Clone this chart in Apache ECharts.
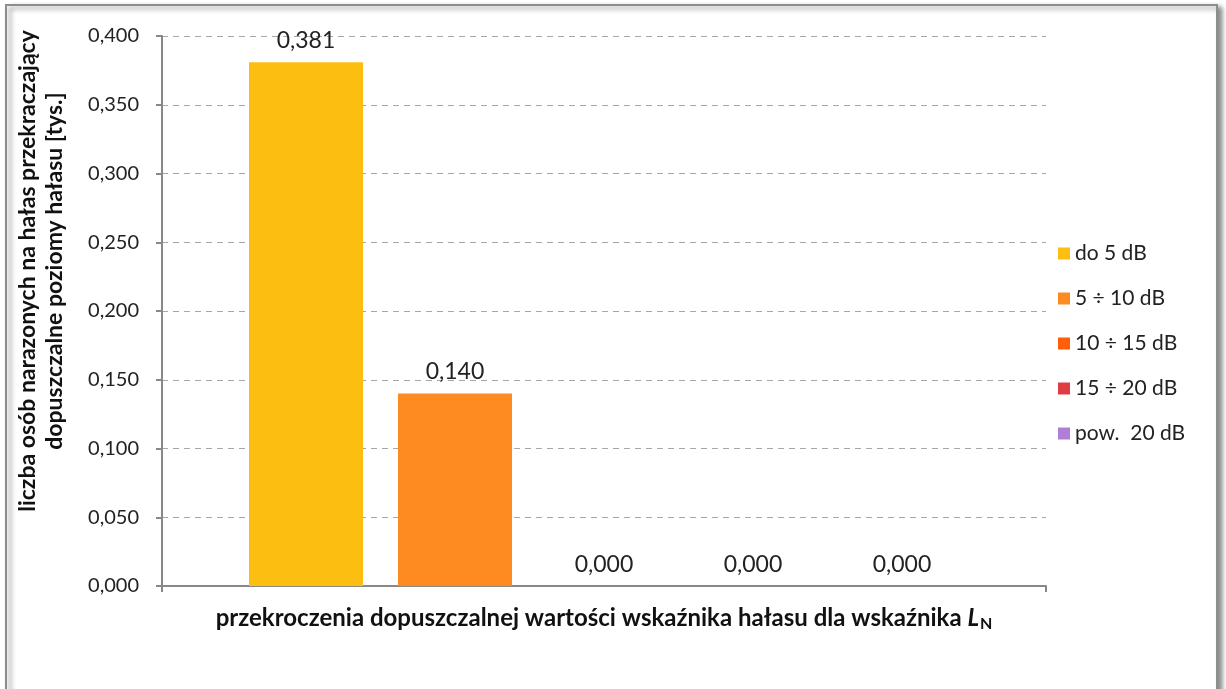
<!DOCTYPE html>
<html>
<head>
<meta charset="utf-8">
<script src="https://cdn.jsdelivr.net/npm/echarts@6/dist/echarts.min.js"></script>
<style>
  html, body { margin: 0; padding: 0; background: #ffffff; }
  #chart { width: 1226px; height: 689px; }
</style>
</head>
<body>
<div id="chart"></div>
<script>
// Exposure ranges above the permitted noise level (legend entries)
const seriesNames = ['do 5 dB', '5 ÷ 10 dB', '10 ÷ 15 dB', '15 ÷ 20 dB', 'pow.  20 dB'];
// Number of exposed residents [thousands] per range
const seriesValues = [0.381, 0.140, 0.000, 0.000, 0.000];
const seriesColors = ['#FDBE12', '#FD8B21', '#FF5F0B', '#DF3C42', '#B07ED8'];
const categories = [''];
const yTicks = { min: 0, max: 0.4, interval: 0.05 };

const fmt = v => v.toFixed(3).replace('.', ',');
const FONT = 'Lato, "Open Sans", sans-serif';

const chart = echarts.init(document.getElementById('chart'), null, { renderer: 'canvas' });

const series = seriesNames.map((name, i) => ({
  name: name,
  type: 'bar',
  data: [seriesValues[i]],
  barWidth: 114,
  barGap: '30.7%',
  itemStyle: { color: seriesColors[i] },
  label: {
    show: true,
    position: 'top',
    distance: 10,
    color: '#222',
    fontFamily: FONT,
    fontSize: 23,
    formatter: p => fmt(p.value)
  }
}));

chart.setOption({
  backgroundColor: '#ffffff',
  animation: false,
  textStyle: { fontFamily: FONT },
  graphic: [{
    type: 'rect',
    z: -10,
    silent: true,
    shape: { x: 6, y: 5, width: 1211, height: 720 },
    style: {
      fill: '#ffffff',
      stroke: '#8d8d8d',
      lineWidth: 2,
      shadowBlur: 5,
      shadowOffsetX: 4,
      shadowOffsetY: 3,
      shadowColor: 'rgba(0,0,0,0.45)'
    }
  }],
  grid: { left: 162, right: 180, top: 36, bottom: 103, containLabel: false },
  legend: {
    orient: 'vertical',
    left: 1053,
    top: 238,
    itemWidth: 12,
    itemHeight: 12,
    itemGap: 24,
    icon: 'rect',
    textStyle: { fontFamily: FONT, fontSize: 21, color: '#222' },
    data: seriesNames
  },
  xAxis: {
    type: 'category',
    data: categories,
    boundaryGap: true,
    axisLine: { lineStyle: { color: '#888888', width: 2 } },
    axisTick: { show: true, length: 6, lineStyle: { color: '#888888', width: 2 } },
    axisLabel: { show: false },
    name: '{a|przekroczenia dopuszczalnej wartości wskaźnika hałasu dla wskaźnika }{i|L}{s|N}',
    nameLocation: 'middle',
    nameGap: 18,
    nameTextStyle: {
      rich: {
        a: { fontFamily: FONT, fontSize: 24, fontWeight: 'bold', color: '#111' },
        i: { fontFamily: FONT, fontSize: 24, fontWeight: 'bold', fontStyle: 'italic', color: '#111' },
        s: { fontFamily: FONT, fontSize: 16, fontWeight: 'bold', color: '#111', verticalAlign: 'bottom', padding: [12, 0, 0, 1] }
      }
    }
  },
  yAxis: {
    type: 'value',
    min: yTicks.min,
    max: yTicks.max,
    interval: yTicks.interval,
    axisLine: { show: true, lineStyle: { color: '#888888', width: 2 } },
    axisTick: { show: true, length: 6, lineStyle: { color: '#888888', width: 2 } },
    axisLabel: {
      fontFamily: FONT,
      fontSize: 20,
      color: '#222',
      margin: 23,
      formatter: v => fmt(v)
    },
    splitLine: { show: true, lineStyle: { color: '#a6a6a6', type: [6, 5], width: 1 } },
    name: 'liczba osób narazonych na hałas przekraczający\ndopuszczalne poziomy hałasu [tys.]',
    nameLocation: 'middle',
    nameGap: 94,
    nameTextStyle: {
      fontFamily: FONT,
      fontSize: 23,
      fontWeight: 'bold',
      color: '#111',
      lineHeight: 27,
      padding: [0, 0, 0, 80]
    }
  },
  series: series
});
</script>
</body>
</html>
